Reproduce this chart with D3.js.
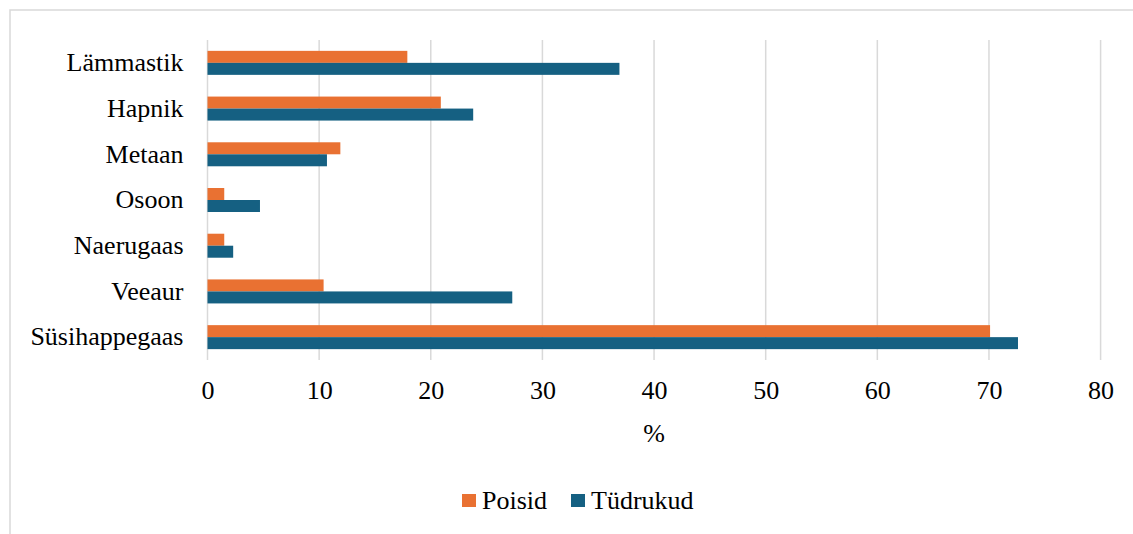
<!DOCTYPE html>
<html>
<head>
<meta charset="utf-8">
<script src="https://cdn.jsdelivr.net/npm/d3@7"></script>
</head>
<body style="margin:0;padding:0;background:#fff">
<svg id="chart" width="1133" height="534" style="display:block"></svg>
<script>
// Gases, top to bottom
const categories = ["Lämmastik", "Hapnik", "Metaan", "Osoon", "Naerugaas", "Veeaur", "Süsihappegaas"];
const seriesNames = ["Poisid", "Tüdrukud"];
const poisid   = [17.9, 20.9, 11.9, 1.5, 1.5, 10.4, 70.1];
const tudrukud = [36.9, 23.8, 10.7, 4.7, 2.3, 27.3, 72.6];
const xTicks = [0, 10, 20, 30, 40, 50, 60, 70, 80];
const xTitle = "%";
const colors = ["#E97132", "#156082"];

const FONT = "'Liberation Serif'";
const FONT_SIZE = "26px";

const seriesValues = [poisid, tudrukud];
const rows = categories.map((c, i) => ({
  category: c,
  values: seriesNames.map((s, j) => ({ series: s, value: seriesValues[j][i], color: colors[j] }))
}));

const svg = d3.select("#chart");
const W = 1133, H = 534;

// chart-area frame
svg.append("path")
  .attr("d", `M10,${H + 2} L10,10 L${W + 2},10`)
  .attr("fill", "none")
  .attr("stroke", "#D9D9D9")
  .attr("stroke-width", 1.5);

const plot = { left: 207.5, right: 1100.6, top: 40, bottom: 360 };

const x = d3.scaleLinear().domain([0, 80]).range([plot.left, plot.right]);
const y = d3.scaleBand().domain(categories).range([plot.top, plot.bottom])
  .paddingInner(0.475).paddingOuter(0.2375);
const ySub = d3.scaleBand().domain(seriesNames).range([0, y.bandwidth()]);

// vertical gridlines
svg.append("g")
  .selectAll("line")
  .data(xTicks)
  .join("line")
  .attr("x1", d => x(d)).attr("x2", d => x(d))
  .attr("y1", plot.top).attr("y2", plot.bottom)
  .attr("stroke", "#D9D9D9")
  .attr("stroke-width", 1.5);

// bars
const groups = svg.append("g")
  .selectAll("g")
  .data(rows)
  .join("g")
  .attr("transform", d => `translate(0,${y(d.category)})`);

groups.selectAll("rect")
  .data(d => d.values)
  .join("rect")
  .attr("x", x(0))
  .attr("y", d => ySub(d.series))
  .attr("width", d => x(d.value) - x(0))
  .attr("height", ySub.bandwidth())
  .attr("fill", d => d.color);

function styleText(sel) {
  sel.style("font-family", FONT)
     .style("font-size", FONT_SIZE)
     .attr("fill", "#000");
}

// category axis
const yAxis = svg.append("g")
  .attr("transform", `translate(${plot.left},0)`)
  .call(d3.axisLeft(y).tickSize(0).tickPadding(24));
yAxis.attr("font-family", null).attr("font-size", null);
yAxis.select(".domain").remove();
yAxis.selectAll("text").call(styleText);

// value axis
const xAxis = svg.append("g")
  .attr("transform", `translate(0,${plot.bottom})`)
  .call(d3.axisBottom(x).tickValues(xTicks).tickSize(0).tickPadding(21));
xAxis.attr("font-family", null).attr("font-size", null);
xAxis.select(".domain").remove();
xAxis.selectAll("text").call(styleText);

svg.append("text")
  .attr("x", (plot.left + plot.right) / 2)
  .attr("y", 442)
  .attr("text-anchor", "middle")
  .call(styleText)
  .text(xTitle);

// legend
const legendItems = [
  { label: seriesNames[0], color: colors[0], x: 462 },
  { label: seriesNames[1], color: colors[1], x: 571 }
];
const legend = svg.append("g")
  .selectAll("g")
  .data(legendItems)
  .join("g")
  .attr("transform", d => `translate(${d.x},494)`);
legend.append("rect")
  .attr("width", 14).attr("height", 13)
  .attr("fill", d => d.color);
legend.append("text")
  .attr("x", 20).attr("y", 15)
  .call(styleText)
  .text(d => d.label);
</script>
</body>
</html>
